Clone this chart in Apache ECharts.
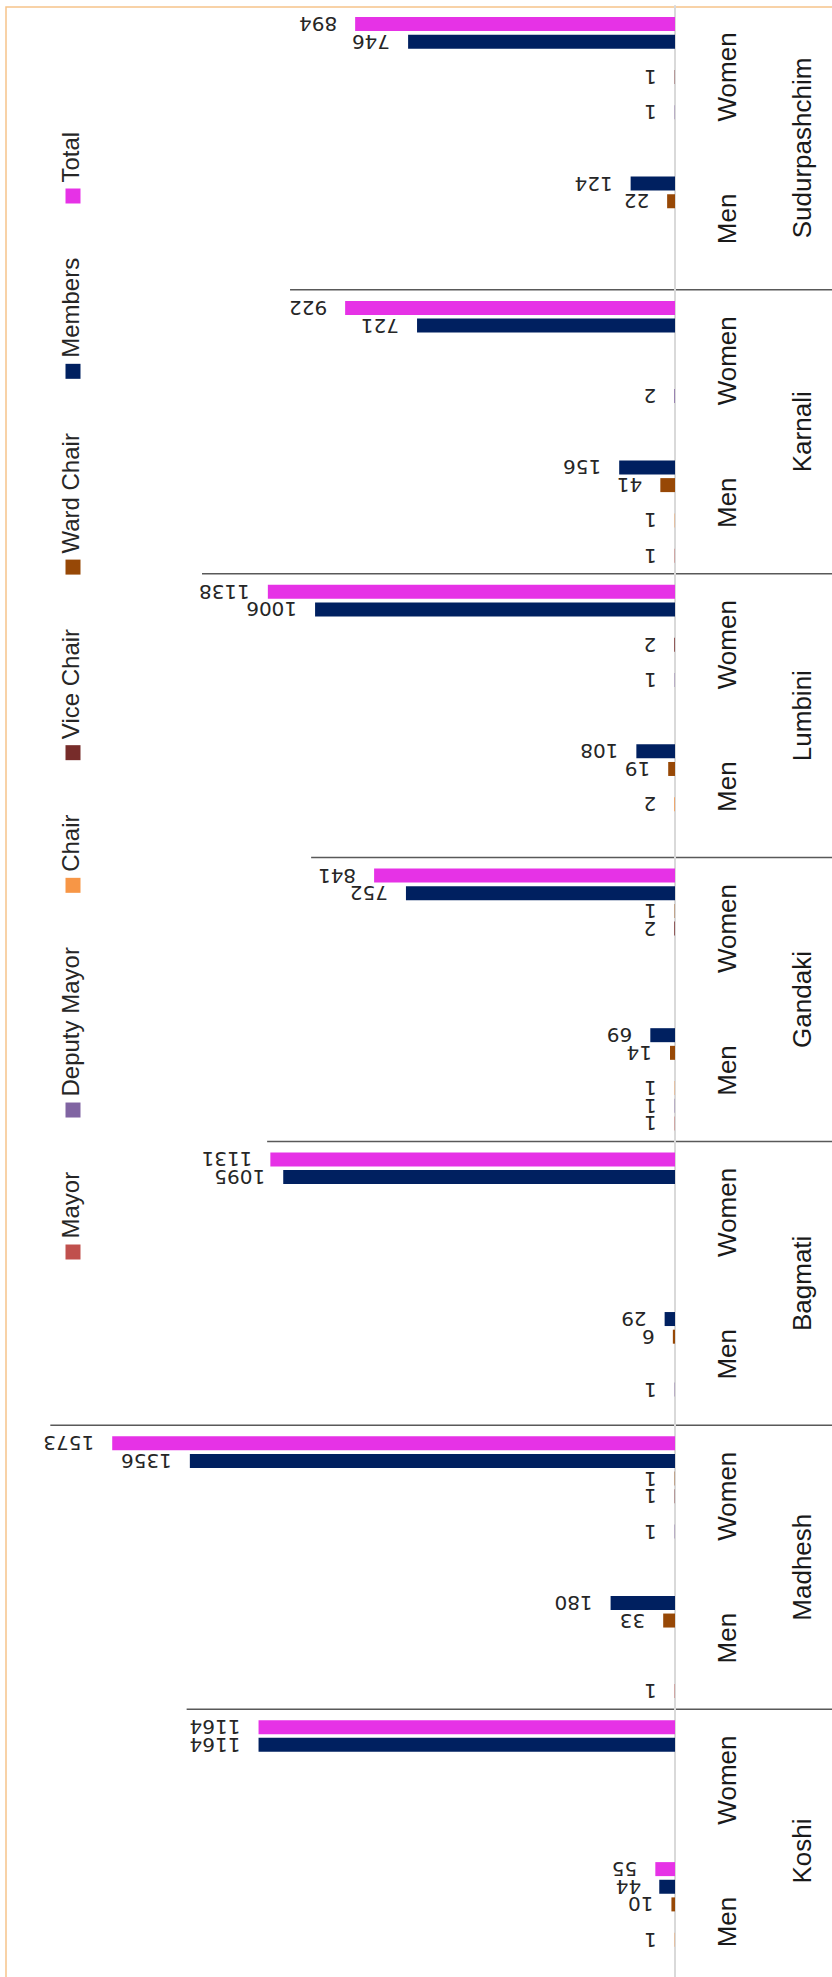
<!DOCTYPE html>
<html>
<head>
<meta charset="utf-8">
<script src="https://cdn.jsdelivr.net/npm/echarts@6/dist/echarts.min.js"></script>
<style>
html,body{margin:0;padding:0;background:#fff;overflow:hidden;}
#c{width:832px;height:1977px;}
</style>
</head>
<body>
<div id="c"></div>
<script>
// ---- data (categories run bottom -> top: Koshi Men, Koshi Women, Madhesh Men, ...) ----
const provinces = ['Koshi', 'Madhesh', 'Bagmati', 'Gandaki', 'Lumbini', 'Karnali', 'Sudurpashchim'];
const genders = ['Men', 'Women'];
const seriesNames = ['Mayor', 'Deputy Mayor', 'Chair', 'Vice Chair', 'Ward Chair', 'Members', 'Total'];

const mayor       = [null, null, 1, null, null, null, 1, null, null, null, 1, null, null, null];
const deputyMayor = [null, null, null, 1, 1, null, 1, null, null, 1, null, 2, null, 1];
const chair       = [1, null, null, null, null, null, 1, null, 2, null, 1, null, null, null];
const viceChair   = [null, null, null, 1, null, null, null, 2, null, 2, null, null, null, 1];
const wardChair   = [10, null, 33, 1, 6, null, 14, 1, 19, null, 41, null, 22, null];
const members     = [44, 1164, 180, 1356, 29, 1095, 69, 752, 108, 1006, 156, 721, 124, 746];
const total       = [55, 1164, null, 1573, null, 1131, null, 841, null, 1138, null, 922, null, 894];

// how far (in axis units) each province divider reaches into the plot, bottom divider first
const separatorReach = [1365, 1746, 1140, 1017, 1322, 1076];

// ---- styles ----
const colors = ['#C0504D', '#8064A2', '#F79646', '#772C2A', '#974806', '#002060', '#E632E6'];
const valueSets = [mayor, deputyMayor, chair, viceChair, wardChair, members, total];
const LABEL_FONT = '"DejaVu Sans", sans-serif';
const LABEL_SIZE = 20;
const LABEL_DIST = 18;
const AXIS_FONT = '"Liberation Sans", Arial, sans-serif';
const LEGEND_FONT = '"Liberation Sans", Arial, sans-serif';
const LEGEND_SIZE = 24;

const yCats = [];
provinces.forEach(() => genders.forEach(g => yCats.push(g)));

const chart = echarts.init(document.getElementById('c'), null, {renderer: 'svg'});

// series listed top-most bar first (ECharts puts the first series at the top of a horizontal band)
const series = [];
for (let i = seriesNames.length - 1; i >= 0; i--) {
  series.push({
    name: seriesNames[i],
    type: 'bar',
    data: valueSets[i],
    barWidth: 14,
    barGap: '26%',
    itemStyle: {color: colors[i]},
    label: {
      show: true,
      position: 'left',
      distance: LABEL_DIST,
      rotate: 180,
      align: 'left',
      verticalAlign: 'middle',
      fontFamily: LABEL_FONT,
      fontSize: LABEL_SIZE,
      color: '#262626'
    }
  });
}

chart.setOption({
  animation: false,
  backgroundColor: '#fff',
  grid: {left: 31, right: 157, top: 6, bottom: -16, containLabel: false, outerBoundsMode: 'none'},
  xAxis: {
    type: 'value', inverse: true, min: 0, max: 1800,
    show: false, splitLine: {show: false}
  },
  yAxis: [
    {
      type: 'category', position: 'right', data: yCats,
      axisLine: {show: true, lineStyle: {color: '#D9D9D9', width: 2}},
      axisTick: {show: false},
      axisLabel: {rotate: 90, margin: 39, fontFamily: AXIS_FONT, fontSize: 26, color: '#1a1a1a'}
    },
    {
      type: 'category', position: 'right', data: provinces,
      axisLine: {show: false}, axisTick: {show: false},
      axisLabel: {rotate: 90, margin: 114, fontFamily: AXIS_FONT, fontSize: 26, color: '#1a1a1a'}
    }
  ],
  series: series
});

// ---- decorations: frame, province separators, legend ----
function textWidth(str, font) {
  const cv = document.createElement('canvas').getContext('2d');
  cv.font = font;
  return cv.measureText(str).width;
}
const graphics = [];
graphics.push({
  type: 'rect', silent: true,
  shape: {x: 6, y: 7, width: 2000, height: 3000},
  style: {fill: 'none', stroke: '#F6C48A', lineWidth: 1.5}
});

for (let p = 0; p < provinces.length - 1; p++) {
  const yA = chart.convertToPixel({yAxisIndex: 0}, 2 * p + 1);
  const yB = chart.convertToPixel({yAxisIndex: 0}, 2 * p + 2);
  const yMid = (yA + yB) / 2;
  const x0 = chart.convertToPixel({xAxisIndex: 0}, separatorReach[p]);
  graphics.push({
    type: 'line', silent: true,
    shape: {x1: x0, y1: yMid, x2: 840, y2: yMid},
    style: {stroke: '#595959', lineWidth: 1.5}
  });
}

// legend (rotated, reading bottom -> top, Mayor at bottom)
const legendFontCss = LEGEND_SIZE + 'px ' + LEGEND_FONT;
const mk = 15, mkGap = 6;
const yFirst = 1252, yLast = 196;
const widths = seriesNames.map(n => textWidth(n, legendFontCss));
let used = 0;
for (let i = 0; i < seriesNames.length - 1; i++) used += mk + mkGap + widths[i];
const itemGap = (yFirst - yLast - used) / (seriesNames.length - 1);
let yc = yFirst;
for (let i = 0; i < seriesNames.length; i++) {
  graphics.push({
    type: 'rect', silent: true,
    shape: {x: 73 - mk / 2, y: yc - mk / 2, width: mk, height: mk},
    style: {fill: colors[i]}
  });
  graphics.push({
    type: 'text', silent: true,
    x: 70, y: yc - mk / 2 - mkGap, rotation: Math.PI / 2,
    style: {text: seriesNames[i], font: legendFontCss, fill: '#262626', align: 'left', verticalAlign: 'middle'}
  });
  yc = yc - mk - mkGap - widths[i] - itemGap;
}
chart.setOption({graphic: graphics});
</script>
</body>
</html>
